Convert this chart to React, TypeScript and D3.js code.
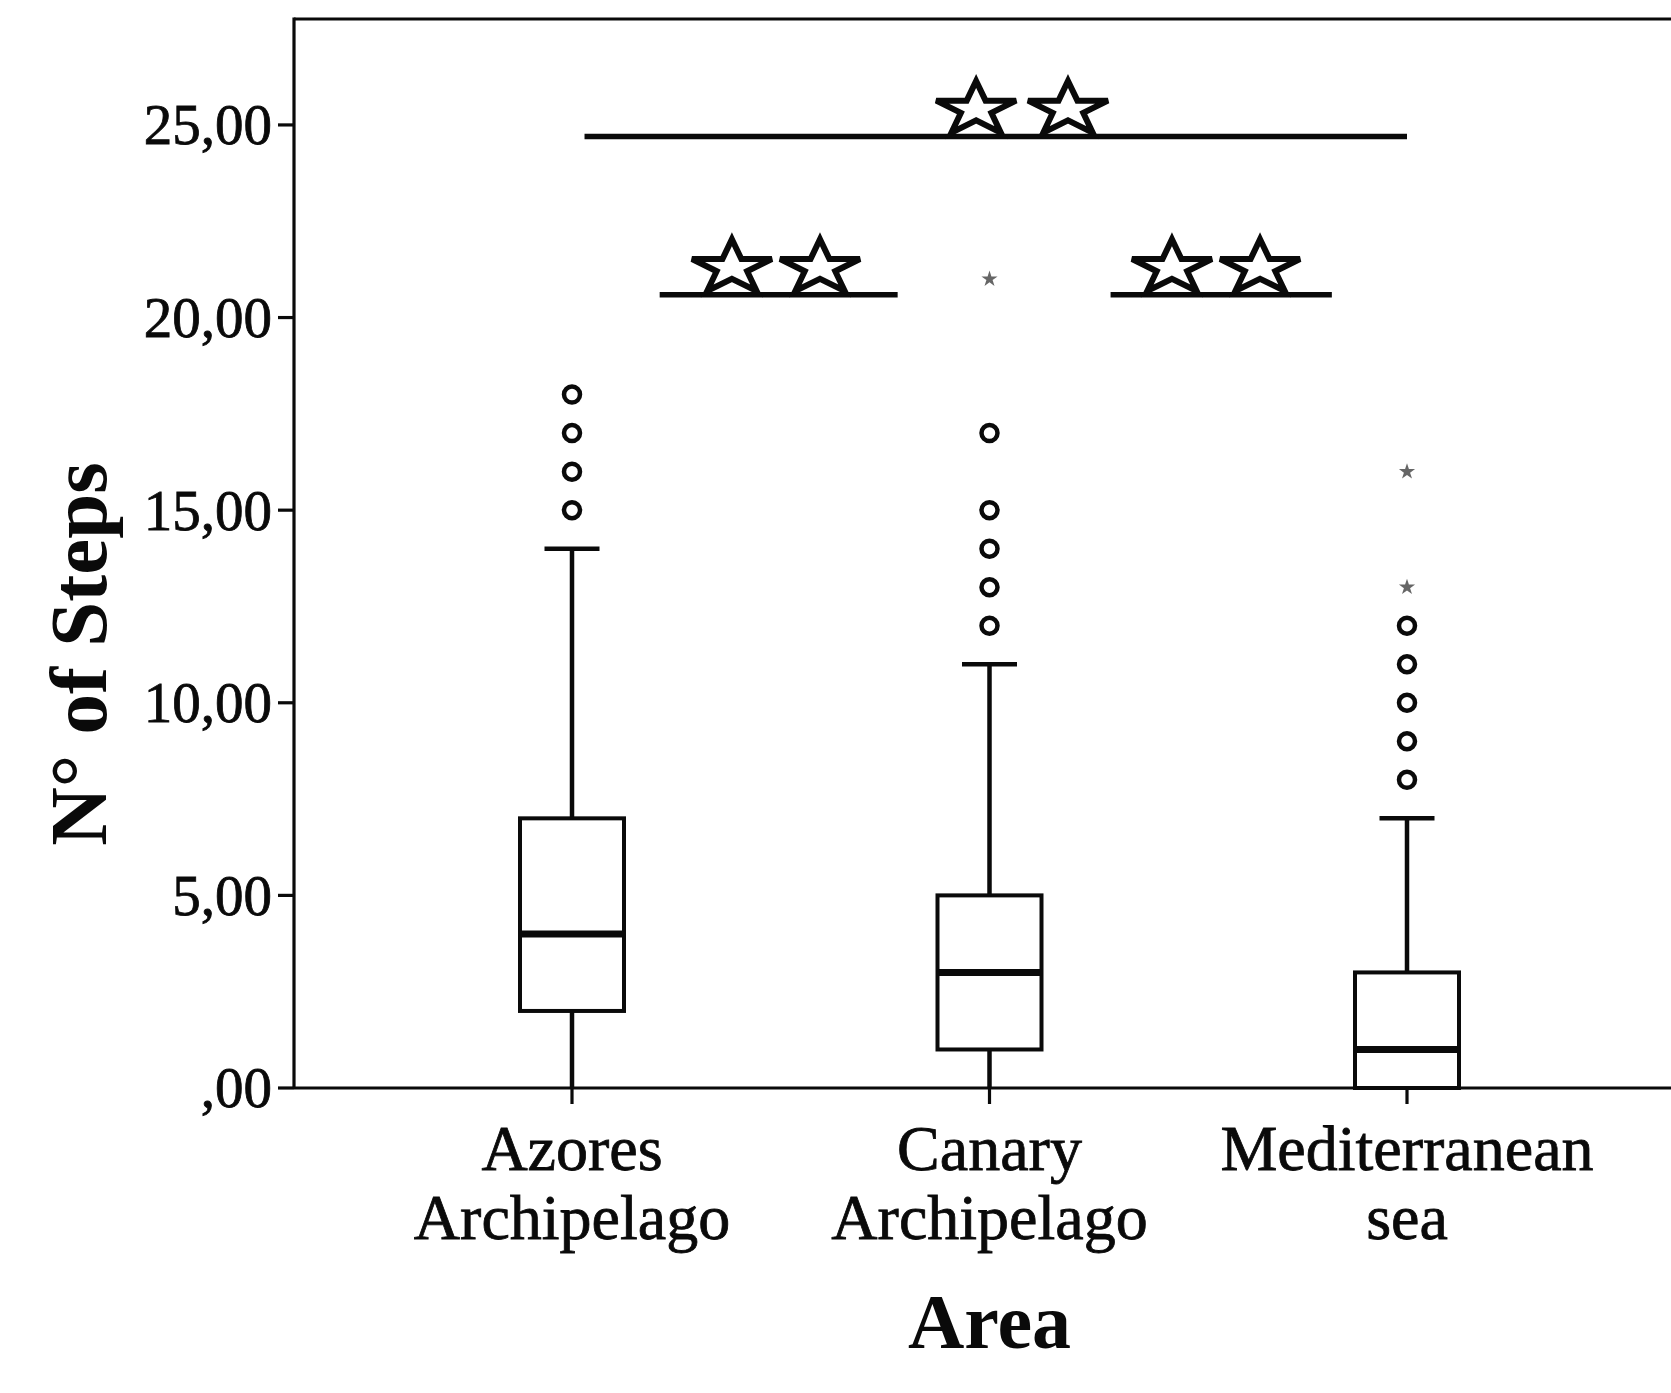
import React from "react";
import * as d3 from "d3";

// Area categories (two-line tick labels)
const areas = ["Azores Archipelago", "Canary Archipelago", "Mediterranean sea"];
const areaLabelLines = [
  ["Azores", "Archipelago"],
  ["Canary", "Archipelago"],
  ["Mediterranean", "sea"],
];

// Box-plot statistics per area (number of steps)
const whiskerLow = [0, 0, 0];
const q1 = [2, 1, 0];
const median = [4, 3, 1];
const q3 = [7, 5, 3];
const whiskerHigh = [14, 11, 7];

// Outliers (circles) and extreme values (asterisks)
const outliers = [
  [15, 16, 17, 18],
  [12, 13, 14, 15, 17],
  [8, 9, 10, 11, 12],
];
const extremes = [[], [21], [13, 16]];

// Y axis ticks
const yTicks = [0, 5, 10, 15, 20, 25];
const yTickLabels = [",00", "5,00", "10,00", "15,00", "20,00", "25,00"];

// Significance brackets, in category-index units along x and steps along y
const sigFrom = [0.21, 1.29, 0.03];
const sigTo = [0.78, 1.82, 2.0];
const sigLevel = [20.59, 20.59, 24.7];
const sigStarPos = [
  [0.383, 0.594],
  [1.437, 1.648],
  [0.968, 1.188],
];

const W = 1671;
const H = 1393;
const axisX = 294;
const plotTop = 19;
const plotBottom = 1088;

const ink = "#0a0a0a";
const serif = "'Liberation Serif', 'Times New Roman', serif";

// five-pointed star polygon, flattened vertically
function starPath(cx: number, cy: number, R: number, squash: number): string {
  const r = R * 0.382;
  const pts: [number, number][] = [];
  for (let i = 0; i < 10; i++) {
    const a = -Math.PI / 2 + (i * Math.PI) / 5;
    const rad = i % 2 === 0 ? R : r;
    pts.push([cx + rad * Math.cos(a), cy + rad * Math.sin(a) * squash]);
  }
  return (d3.line()(pts) as string) + "Z";
}

export default function App() {
  const y = d3.scaleLinear().domain([0, 27.75]).range([plotBottom, plotTop]);
  const x = d3.scalePoint<string>().domain(areas).range([572, 1407]);
  const xi = d3.scaleLinear().domain([0, 2]).range([572, 1407]);

  const boxW = 104;
  const capW = 55;

  return (
    <svg
      width={W}
      height={H}
      viewBox={`0 0 ${W} ${H}`}
      style={{ position: "absolute", left: 0, top: 0, background: "#fff" }}
    >
      <rect x={0} y={0} width={W} height={H} fill="#fff" />

      {/* frame: top border, left axis, bottom axis */}
      <line x1={axisX} x2={W} y1={plotTop} y2={plotTop} stroke={ink} strokeWidth={3.2} />
      <line x1={axisX} x2={axisX} y1={plotTop - 1.6} y2={plotBottom} stroke={ink} strokeWidth={3.2} />
      <line x1={axisX} x2={W} y1={plotBottom} y2={plotBottom} stroke={ink} strokeWidth={3.2} />

      {/* y ticks */}
      {yTicks.map((t, i) => (
        <g key={"yt" + i}>
          <line x1={axisX - 16} x2={axisX} y1={y(t)} y2={y(t)} stroke={ink} strokeWidth={3.2} />
          <text
            x={axisX - 22}
            y={y(t)}
            dy="0.34em"
            textAnchor="end"
            fontFamily={serif}
            fontSize={57}
            fill={ink}
            stroke={ink}
            strokeWidth={0.8}
          >
            {yTickLabels[i]}
          </text>
        </g>
      ))}

      {/* category ticks and labels */}
      {areas.map((a, i) => (
        <g key={"xc" + i}>
          <line x1={x(a)} x2={x(a)} y1={plotBottom} y2={plotBottom + 16} stroke={ink} strokeWidth={3.2} />
          {areaLabelLines[i].map((ln, j) => (
            <text
              key={j}
              x={x(a)}
              y={1170 + j * 69}
              textAnchor="middle"
              fontFamily={serif}
              fontSize={64}
              fill={ink}
              stroke={ink}
              strokeWidth={0.8}
            >
              {ln}
            </text>
          ))}
        </g>
      ))}

      {/* axis titles */}
      <text
        x={x(areas[1])}
        y={1348}
        textAnchor="middle"
        fontFamily={serif}
        fontWeight="bold"
        fontSize={78}
        fill={ink}
      >
        Area
      </text>
      <text
        transform={`translate(106, 654) rotate(-90)`}
        textAnchor="middle"
        fontFamily={serif}
        fontWeight="bold"
        fontSize={81}
        fill={ink}
      >
        N° of Steps
      </text>

      {/* box plots */}
      {areas.map((a, i) => {
        const cx = x(a) as number;
        return (
          <g key={"bx" + i} stroke={ink} fill="none">
            <line x1={cx} x2={cx} y1={y(q1[i])} y2={y(whiskerLow[i])} strokeWidth={4.5} />
            <line x1={cx} x2={cx} y1={y(q3[i])} y2={y(whiskerHigh[i])} strokeWidth={4.5} />
            <line
              x1={cx - capW / 2}
              x2={cx + capW / 2}
              y1={y(whiskerHigh[i])}
              y2={y(whiskerHigh[i])}
              strokeWidth={4.5}
            />
            <rect
              x={cx - boxW / 2}
              y={y(q3[i])}
              width={boxW}
              height={y(q1[i]) - y(q3[i])}
              fill="#fff"
              strokeWidth={4}
            />
            <line
              x1={cx - boxW / 2}
              x2={cx + boxW / 2}
              y1={y(median[i])}
              y2={y(median[i])}
              strokeWidth={7}
            />
            {outliers[i].map((v, k) => (
              <circle key={"o" + k} cx={cx} cy={y(v)} r={8} fill="#fff" strokeWidth={4.5} />
            ))}
            {extremes[i].map((v, k) => (
              <path
                key={"e" + k}
                d={starPath(cx, y(v), 8.5, 1)}
                fill="#666"
                stroke="none"
              />
            ))}
          </g>
        );
      })}

      {/* significance brackets */}
      {sigLevel.map((lv, i) => (
        <g key={"sg" + i}>
          <line
            x1={xi(sigFrom[i])}
            x2={xi(sigTo[i])}
            y1={y(lv)}
            y2={y(lv)}
            stroke={ink}
            strokeWidth={5.5}
          />
          {sigStarPos[i].map((p, k) => (
            <path
              key={k}
              d={starPath(xi(p), y(lv) - 27, 42, 0.68)}
              fill="#fff"
              stroke={ink}
              strokeWidth={6}
              strokeLinejoin="miter"
            />
          ))}
        </g>
      ))}
    </svg>
  );
}
